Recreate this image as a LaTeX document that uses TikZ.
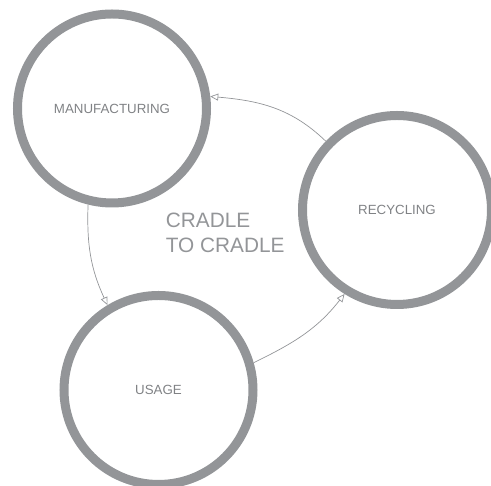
\documentclass[tikz,border=0pt]{standalone}
\usepackage{fontspec}
\setmainfont{Liberation Sans}
\usepackage{xcolor}
\usepackage{tikz}
\usetikzlibrary{arrows.meta}

\definecolor{ringgray}{RGB}{147,149,152}
\definecolor{labelgray}{RGB}{128,130,133}

\begin{document}
\begin{tikzpicture}[
  x=1pt, y=1pt,
  stage/.style={circle, draw=ringgray, line width=9pt, minimum size=189pt, inner sep=0pt, text=labelgray, font=\fontsize{13.3}{16}\selectfont},
  flow/.style={ringgray, line width=0.7pt, -{Triangle[open, length=8pt, width=7pt]}},
  title/.style={text=ringgray, align=left, inner sep=0pt, anchor=north west, font=\fontsize{20.8}{25.4}\selectfont}
]
\useasboundingbox (0,0) rectangle (491,486);

% Stages of the cycle
\node[stage] (manufacturing) at (112,377.5) {MANUFACTURING};
\node[stage] (recycling) at (397,276) {RECYCLING};
\node[stage] (usage) at (158.5,96) {USAGE};

% Centre title
\node[title] (cradle) at (165.7,273.6) {CRADLE\\TO CRADLE};

% Arrows
\draw[flow] (recycling.136) to[out=136, in=-5] (manufacturing.7);
\draw[flow] (manufacturing.256) to[out=268, in=115] (usage.121);
\draw[flow] (usage.16) to[out=26, in=232] (recycling.238);

\end{tikzpicture}
\end{document}
